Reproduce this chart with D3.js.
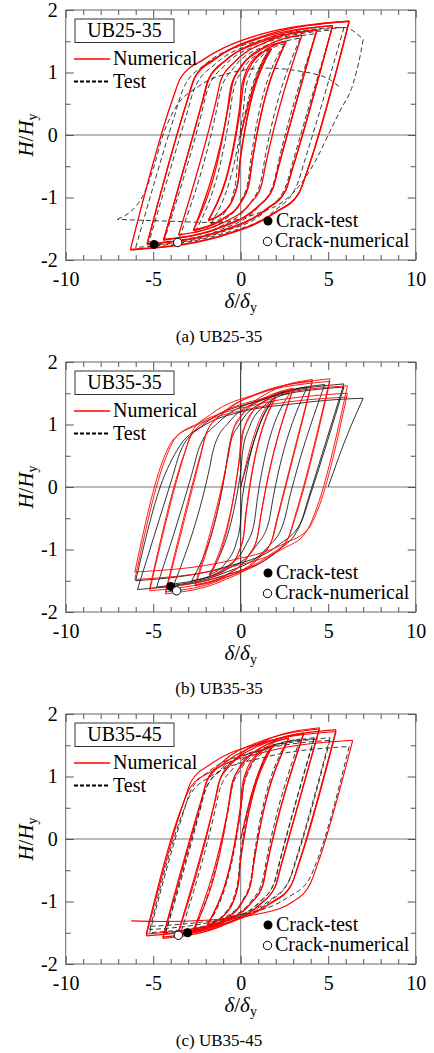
<!DOCTYPE html>
<html>
<head>
<meta charset="utf-8">
<script src="https://cdn.jsdelivr.net/npm/d3@7"></script>
<style>
  body { margin: 0; background: #fff; }
  svg text { font-family: "Liberation Serif", "Times New Roman", serif; fill: #000; }
</style>
</head>
<body>
<div id="chart"></div>
<script>
// specimen names and captions
const specimens = ["UB25-35", "UB35-35", "UB35-45"];
const captions = ["(a) UB25-35", "(b) UB35-35", "(c) UB35-45"];

const xMajor = [-10, -5, 0, 5, 10];
const xMinor = [-9, -8, -7, -6, -4, -3, -2, -1, 1, 2, 3, 4, 6, 7, 8, 9];
const yMajor = [-2, -1, 0, 1, 2];
const yMinor = [-1.5, -0.5, 0.5, 1.5];

// crack points [delta/delta_y, H/H_y]
const crackTest = [[-4.95, -1.75], [-4.0, -1.59], [-3.03, -1.5]];
const crackNum = [[-3.6, -1.72], [-3.66, -1.66], [-3.56, -1.54]];

// load histories (in loading order)
const ub2535Num = [
  [0,0],[0.55,0.6],[0.9,0.9],[1.3,1.18],[1.75,1.38],
  [-0.03,-0.40],[-0.12,-0.69],[-0.36,-0.96],[-0.94,-1.22],[-1.85,-1.36],
  [-0.07,0.42],[0.02,0.71],[0.26,0.98],[0.84,1.24],[1.75,1.38],
  [-0.04,-0.41],[-0.13,-0.70],[-0.37,-0.97],[-0.95,-1.23],[-1.85,-1.37],
  [0.02,0.50],[0.15,0.80],[0.48,1.06],[1.31,1.33],[2.6,1.5],
  [0.64,-0.46],[0.47,-0.78],[0.04,-1.06],[-1.03,-1.34],[-2.7,-1.52],
  [-0.74,0.44],[-0.57,0.76],[-0.14,1.03],[0.93,1.32],[2.6,1.5],
  [0.63,-0.47],[0.46,-0.79],[0.03,-1.07],[-1.04,-1.35],[-2.7,-1.53],
  [-0.67,0.50],[-0.46,0.83],[0.08,1.11],[1.42,1.42],[3.5,1.6],
  [1.42,-0.48],[1.17,-0.82],[0.53,-1.10],[-1.07,-1.41],[-3.55,-1.6],
  [-1.42,0.53],[-1.13,0.88],[-0.38,1.16],[1.47,1.49],[4.35,1.68],
  [2.17,-0.50],[1.84,-0.85],[0.99,-1.14],[-1.12,-1.47],[-4.4,-1.67],
  [-2.22,0.51],[-1.89,0.86],[-1.04,1.15],[1.07,1.48],[4.35,1.68],
  [2.16,-0.51],[1.83,-0.86],[0.98,-1.15],[-1.13,-1.48],[-4.4,-1.68],
  [-2.17,0.55],[-1.8,0.91],[-0.83,1.20],[1.54,1.55],[5.25,1.75],
  [2.98,-0.52],[2.56,-0.89],[1.48,-1.18],[-1.19,-1.54],[-5.35,-1.74],
  [-3.08,0.53],[-2.66,0.90],[-1.58,1.19],[1.09,1.55],[5.25,1.75],
  [2.97,-0.53],[2.55,-0.90],[1.47,-1.19],[-1.2,-1.55],[-5.35,-1.75],
  [-3.03,0.57],[-2.57,0.95],[-1.37,1.24],[1.59,1.61],[6.2,1.82],
  [3.83,-0.55],[3.32,-0.93],[2.01,-1.23],[-1.24,-1.62],[-6.3,-1.83],
  [-3.93,0.54],[-3.42,0.92],[-2.11,1.21],[1.14,1.61],[6.2,1.82],
  [3.82,-0.56],[3.31,-0.94],[2.0,-1.24],[-1.25,-1.63],[-6.3,-1.84]
];

const ub2535Test = [
  [0,0],[0.5,0.55],[0.85,0.9],[1.2,1.15],[1.6,1.36],
  [-0.16,-0.31],[-0.24,-0.64],[-0.44,-0.95],[-0.93,-1.25],[-1.7,-1.42],
  [0.12,0.31],[0.24,0.66],[0.55,0.98],[1.31,1.29],[2.5,1.46],
  [0.6,-0.35],[0.44,-0.71],[0.02,-1.05],[-1.0,-1.37],[-2.6,-1.55],
  [-0.64,0.31],[-0.44,0.68],[0.09,1.03],[1.38,1.36],[3.4,1.55],
  [1.39,-0.36],[1.15,-0.74],[0.51,-1.10],[-1.06,-1.45],[-3.5,-1.64],
  [-1.44,0.32],[-1.15,0.71],[-0.41,1.07],[1.43,1.43],[4.3,1.62],
  [2.2,-0.38],[1.87,-0.78],[1.01,-1.15],[-1.1,-1.51],[-4.4,-1.71],
  [-2.26,0.32],[-1.89,0.73],[-0.92,1.11],[1.47,1.48],[5.2,1.68],
  [3.02,-0.39],[2.6,-0.80],[1.52,-1.19],[-1.14,-1.56],[-5.3,-1.77],
  [-3.1,0.32],[-2.65,0.74],[-1.48,1.13],[1.4,1.51],[5.9,1.72],
  [3.68,-0.39],[3.2,-0.81],[1.94,-1.21],[-1.16,-1.59],[-6.0,-1.8],
  [-3.78,0.31],[-3.3,0.73],[-2.04,1.13],[1.06,1.51],[5.9,1.72],[7.0,1.53],
  [6.85,1.3],[6.4,0.8],[5.7,0.4],[5.0,0],[4.3,-0.4],[3.6,-0.72],[2.5,-1.05],[1.0,-1.25],[-1.7,-1.4],[-4.0,-1.38],[-7.05,-1.35],
  [-5.6,-0.98],[-4.9,-0.45],[-4.5,-0.05],[-3.8,0.4],[-2.4,0.78],[-0.5,1.0],[1.5,1.07],[3.4,1.02],[5.0,0.9],[5.6,0.78]
];

const ub3535Num = [
  [0,0],[0.6,0.68],[1.0,1.02],[1.5,1.3],[2.0,1.45],
  [0.28,-0.44],[0.18,-0.74],[-0.09,-1.03],[-0.76,-1.30],[-1.8,-1.45],
  [-0.1,0.42],[0.0,0.72],[0.28,1.01],[0.95,1.28],[2.0,1.43],
  [0.31,-0.43],[0.2,-0.73],[-0.07,-1.01],[-0.75,-1.28],[-1.8,-1.43],
  [-0.02,0.53],[0.13,0.85],[0.52,1.12],[1.49,1.41],[3.0,1.58],
  [1.14,-0.47],[0.95,-0.80],[0.47,-1.09],[-0.73,-1.40],[-2.6,-1.58],
  [-0.75,0.46],[-0.56,0.79],[-0.08,1.08],[1.13,1.39],[3.0,1.56],
  [1.15,-0.47],[0.96,-0.80],[0.48,-1.08],[-0.73,-1.39],[-2.6,-1.56],
  [-0.66,0.57],[-0.42,0.92],[0.20,1.20],[1.72,1.53],[4.1,1.72],
  [2.07,-0.51],[1.75,-0.87],[0.92,-1.17],[-1.12,-1.51],[-4.3,-1.71],
  [-2.29,0.50],[-1.97,0.86],[-1.14,1.15],[0.91,1.49],[4.1,1.69],
  [2.11,-0.50],[1.79,-0.85],[0.96,-1.14],[-1.1,-1.48],[-4.3,-1.68],
  [-2.28,0.54],[-1.91,0.90],[-0.95,1.19],[1.41,1.53],[5.1,1.73],
  [3.1,-0.47],[2.69,-0.83],[1.61,-1.12],[-1.05,-1.46],[-5.2,-1.66],
  [-3.22,0.52],[-2.8,0.87],[-1.72,1.16],[0.94,1.49],[5.1,1.69],
  [3.15,-0.46],[2.73,-0.81],[1.65,-1.09],[-1.03,-1.43],[-5.2,-1.62],
  [-3.28,0.49],[-2.81,0.83],[-1.59,1.11],[1.41,1.43],[6.1,1.62],
  [4.26,-0.40],[3.74,-0.72],[2.4,-0.99],[-0.9,-1.30],[-6.05,-1.48],
  [-4.29,0.46],[-3.77,0.77],[-2.42,1.02],[0.91,1.32],[6.1,1.50],
  [4.41,-0.36],[3.89,-0.66],[2.53,-0.90],[-0.82,-1.19],[-6.05,-1.36],
  [-4.4,0.46],[-3.88,0.75],[-2.51,0.99],[0.85,1.27],[6.1,1.44]
];

const ub3535Test = [
  [0,0],[0.5,0.5],[0.9,0.85],[1.3,1.15],[1.8,1.38],
  [0.1,-0.15],[0.0,-0.53],[-0.24,-0.88],[-0.85,-1.21],[-1.8,-1.4],
  [-0.02,0.2],[0.12,0.59],[0.49,0.95],[1.39,1.31],[2.8,1.5],
  [0.97,-0.15],[0.78,-0.56],[0.29,-0.93],[-0.92,-1.3],[-2.8,-1.5],
  [-0.91,0.2],[-0.67,0.62],[-0.06,1.01],[1.45,1.39],[3.8,1.6],
  [1.88,-0.13],[1.6,-0.56],[0.86,-0.95],[-0.96,-1.34],[-3.8,-1.55],
  [-1.86,0.2],[-1.53,0.63],[-0.66,1.04],[1.47,1.42],[4.8,1.64],
  [2.82,-0.14],[2.44,-0.58],[1.45,-0.99],[-0.99,-1.38],[-4.8,-1.6],
  [-2.81,0.19],[-2.37,0.63],[-1.24,1.04],[1.55,1.43],[5.9,1.65],
  [3.89,-0.16],[3.4,-0.6],[2.13,-1.02],[-1.0,-1.42],[-5.9,-1.64],
  [-3.92,0.14],[-3.43,0.58],[-2.15,0.99],[1.0,1.38],[5.9,1.6],
  [4.0,-0.11],[3.5,-0.53],[2.2,-0.92],[-1.0,-1.29],[-6.0,-1.5],
  [-4.6,0.0],[-3.5,0.65],[-2.0,1.0],[0,1.2],[3,1.33],[5.5,1.4],[7.0,1.42],
  [6.0,0.77],[5.0,0]
];

const ub3545Num = [
  [0,0],[0.6,0.7],[1.0,1.05],[1.4,1.32],[1.85,1.51],
  [-0.03,-0.37],[-0.12,-0.67],[-0.37,-0.96],[-0.97,-1.23],[-1.9,-1.38],
  [-0.03,0.49],[0.06,0.79],[0.31,1.08],[0.91,1.35],[1.85,1.5],
  [-0.02,-0.37],[-0.11,-0.67],[-0.36,-0.95],[-0.96,-1.22],[-1.9,-1.37],
  [0.04,0.57],[0.18,0.89],[0.53,1.16],[1.4,1.45],[2.75,1.62],
  [0.74,-0.39],[0.57,-0.71],[0.12,-1.0],[-0.98,-1.30],[-2.7,-1.47],
  [-0.7,0.53],[-0.53,0.85],[-0.08,1.14],[1.03,1.44],[2.75,1.61],
  [0.75,-0.39],[0.58,-0.71],[0.13,-0.99],[-0.97,-1.29],[-2.7,-1.46],
  [-0.65,0.59],[-0.44,0.92],[0.12,1.20],[1.48,1.51],[3.6,1.7],
  [1.5,-0.4],[1.25,-0.74],[0.58,-1.03],[-1.05,-1.34],[-3.6,-1.53],
  [-1.51,0.56],[-1.25,0.9],[-0.59,1.18],[1.05,1.49],[3.6,1.68],
  [1.52,-0.4],[1.27,-0.74],[0.6,-1.02],[-1.04,-1.33],[-3.6,-1.52],
  [-1.45,0.63],[-1.15,0.98],[-0.38,1.26],[1.53,1.59],[4.5,1.78],
  [2.31,-0.41],[1.97,-0.76],[1.09,-1.05],[-1.07,-1.39],[-4.45,-1.59],
  [-2.27,0.59],[-1.93,0.94],[-1.05,1.23],[1.12,1.56],[4.5,1.76],
  [2.34,-0.4],[2.0,-0.75],[1.12,-1.04],[-1.06,-1.37],[-4.45,-1.57],
  [-2.29,0.59],[-1.9,0.94],[-0.9,1.22],[1.58,1.56],[5.45,1.75],
  [3.3,-0.4],[2.87,-0.75],[1.73,-1.03],[-1.05,-1.36],[-5.4,-1.55],
  [-3.27,0.58],[-2.83,0.92],[-1.7,1.20],[1.09,1.53],[5.45,1.72],
  [3.34,-0.39],[2.9,-0.73],[1.77,-1.01],[-1.03,-1.33],[-5.4,-1.52],
  [-3.38,0.5],[-2.89,0.82],[-1.62,1.09],[1.51,1.40],[6.4,1.58],
  [4.52,-0.30],[4.0,-0.7],[3.0,-1.0],[1.0,-1.2],[-2.0,-1.3],[-4.5,-1.32],[-6.25,-1.31]
];

const ub3545Test = [
  [0,0],[0.55,0.62],[0.95,0.98],[1.3,1.25],[1.7,1.45],
  [-0.04,-0.29],[-0.13,-0.61],[-0.36,-0.9],[-0.92,-1.19],[-1.8,-1.35],
  [0.0,0.45],[0.13,0.78],[0.47,1.09],[1.3,1.39],[2.6,1.55],
  [0.75,-0.3],[0.58,-0.64],[0.15,-0.96],[-0.93,-1.26],[-2.6,-1.43],
  [-0.72,0.45],[-0.51,0.8],[0.02,1.12],[1.34,1.43],[3.4,1.6],
  [1.49,-0.31],[1.25,-0.66],[0.61,-0.99],[-0.96,-1.30],[-3.4,-1.48],
  [-1.48,0.44],[-1.2,0.79],[-0.46,1.12],[1.36,1.44],[4.2,1.62],
  [2.25,-0.33],[1.92,-0.69],[1.07,-1.02],[-1.03,-1.34],[-4.3,-1.52],
  [-2.37,0.41],[-2.04,0.77],[-1.19,1.1],[0.92,1.42],[4.2,1.6],
  [2.28,-0.32],[1.95,-0.68],[1.1,-1.0],[-1.01,-1.32],[-4.3,-1.5],
  [-2.37,0.43],[-2.0,0.79],[-1.03,1.12],[1.37,1.44],[5.1,1.62],
  [3.17,-0.31],[2.75,-0.67],[1.66,-1.0],[-1.02,-1.32],[-5.2,-1.5],
  [-3.29,0.41],[-2.87,0.76],[-1.78,1.09],[0.91,1.40],[5.1,1.58],
  [3.22,-0.3],[2.8,-0.65],[1.71,-0.97],[-0.99,-1.28],[-5.2,-1.45],
  [-3.38,0.37],[-2.9,0.7],[-1.66,1.01],[1.41,1.31],[6.2,1.48],
  [4.41,-0.31],[3.92,-0.64],[2.66,-0.94],[-0.44,-1.24],[-5.3,-1.4]
];

const numericalSeries = [ub2535Num, ub3535Num, ub3545Num];
const testSeries = [ub2535Test, ub3535Test, ub3545Test];

// styles per panel
const numWidth = [1.3, 0.9, 1.1];
const testDash = ["5,3", null, "5,3"];
const testColor = ["#222", "#111", "#222"];
const testWidth = [0.9, 0.85, 0.9];
const vZeroColor = ["#777", "#222", "#777"];

const width = 434, height = 1053;
const left = 65.7, right = 415.7, plotH = 250;
const panelTops = [10, 362, 714];
const red = "#ff0000";

// split a load history into branches of one loading direction
function branches(pts) {
  const out = [];
  let cur = [pts[0]], dir = 0;
  for (let i = 1; i < pts.length; i++) {
    const d = Math.sign(pts[i][0] - pts[i - 1][0]);
    if (dir === 0) dir = d;
    if (d !== dir) { out.push(cur); cur = [pts[i - 1]]; dir = d; }
    cur.push(pts[i]);
  }
  out.push(cur);
  return out;
}

const svg = d3.select("#chart").append("svg")
  .attr("width", width).attr("height", height);

specimens.forEach((name, i) => {
  const top = panelTops[i], bottom = top + plotH;
  const x = d3.scaleLinear().domain([-10, 10]).range([left, right]);
  const y = d3.scaleLinear().domain([-2, 2]).range([bottom, top]);
  const g = svg.append("g");

  g.append("clipPath").attr("id", "clip" + i)
    .append("rect").attr("x", left).attr("y", top).attr("width", right - left).attr("height", plotH);

  // zero lines
  g.append("line").attr("x1", x(-10)).attr("x2", x(10)).attr("y1", y(0)).attr("y2", y(0))
    .attr("stroke", "#777").attr("stroke-width", 1);
  g.append("line").attr("x1", x(0)).attr("x2", x(0)).attr("y1", top).attr("y2", bottom)
    .attr("stroke", vZeroColor[i]).attr("stroke-width", 1);

  const line = d3.line().x(d => x(d[0])).y(d => y(d[1])).curve(d3.curveMonotoneX);
  const cg = g.append("g").attr("clip-path", `url(#clip${i})`);

  cg.selectAll("path.test").data(branches(testSeries[i])).join("path")
    .attr("class", "test").attr("d", line).attr("fill", "none")
    .attr("stroke", testColor[i]).attr("stroke-width", testWidth[i])
    .attr("stroke-dasharray", testDash[i]);

  cg.selectAll("path.num").data(branches(numericalSeries[i])).join("path")
    .attr("class", "num").attr("d", line).attr("fill", "none")
    .attr("stroke", red).attr("stroke-width", numWidth[i]);

  // crack markers
  g.append("circle").attr("cx", x(crackTest[i][0])).attr("cy", y(crackTest[i][1]))
    .attr("r", 4.5).attr("fill", "#000");
  g.append("circle").attr("cx", x(crackNum[i][0])).attr("cy", y(crackNum[i][1]))
    .attr("r", 4.2).attr("fill", "#fff").attr("stroke", "#000").attr("stroke-width", 1);

  // frame
  g.append("rect").attr("x", left).attr("y", top).attr("width", right - left).attr("height", plotH)
    .attr("fill", "none").attr("stroke", "#666").attr("stroke-width", 1);

  // axes, ticks pointing inwards
  const fmt = d => String(d);
  const addAxis = (axis, tx, ty) => {
    const a = g.append("g").attr("transform", `translate(${tx},${ty})`).call(axis);
    a.select(".domain").remove();
    a.selectAll("line").attr("stroke", "#555");
    a.selectAll("text").attr("font-size", 20)
      .attr("font-family", '"Liberation Serif", "Times New Roman", serif');
    return a;
  };
  addAxis(d3.axisBottom(x).tickValues(xMajor).tickSize(-8).tickPadding(12).tickFormat(fmt), 0, bottom);
  addAxis(d3.axisBottom(x).tickValues(xMinor).tickSize(-5).tickFormat(""), 0, bottom);
  addAxis(d3.axisTop(x).tickValues(xMajor).tickSize(-8).tickFormat(""), 0, top);
  addAxis(d3.axisTop(x).tickValues(xMinor).tickSize(-5).tickFormat(""), 0, top);
  addAxis(d3.axisLeft(y).tickValues(yMajor).tickSize(-8).tickPadding(8).tickFormat(fmt), left, 0);
  addAxis(d3.axisLeft(y).tickValues(yMinor).tickSize(-5).tickFormat(""), left, 0);
  addAxis(d3.axisRight(y).tickValues(yMajor).tickSize(-8).tickFormat(""), right, 0);
  addAxis(d3.axisRight(y).tickValues(yMinor).tickSize(-5).tickFormat(""), right, 0);

  // axis titles
  const yt = g.append("text").attr("transform", `translate(33,${top + 125}) rotate(-90)`)
    .attr("text-anchor", "middle").attr("font-size", 21);
  yt.append("tspan").attr("font-style", "italic").text("H");
  yt.append("tspan").text("/");
  yt.append("tspan").attr("font-style", "italic").text("H");
  yt.append("tspan").attr("font-size", 14).attr("dy", 4).text("y");

  const xt = g.append("text").attr("x", x(0)).attr("y", bottom + 48)
    .attr("text-anchor", "middle").attr("font-size", 21);
  xt.append("tspan").attr("font-style", "italic").text("δ");
  xt.append("tspan").text("/");
  xt.append("tspan").attr("font-style", "italic").text("δ");
  xt.append("tspan").attr("font-size", 14).attr("dy", 4).text("y");

  g.append("text").attr("x", 219).attr("y", bottom + 82).attr("text-anchor", "middle")
    .attr("font-size", 17).text(captions[i]);

  // specimen label box
  g.append("rect").attr("x", 75).attr("y", top + 9).attr("width", 99).attr("height", 23.5)
    .attr("fill", "#fff").attr("stroke", "#333").attr("stroke-width", 1);
  g.append("text").attr("x", 124.5).attr("y", top + 27).attr("text-anchor", "middle")
    .attr("font-size", 20).text(name);

  // series legend
  g.append("line").attr("x1", 74).attr("x2", 110).attr("y1", top + 49).attr("y2", top + 49)
    .attr("stroke", red).attr("stroke-width", 1.4);
  g.append("text").attr("x", 113).attr("y", top + 55).attr("font-size", 20).text("Numerical");
  g.append("line").attr("x1", 74).attr("x2", 110).attr("y1", top + 71.5).attr("y2", top + 71.5)
    .attr("stroke", "#000").attr("stroke-width", 1.8).attr("stroke-dasharray", "4,2");
  g.append("text").attr("x", 113).attr("y", top + 78).attr("font-size", 20).text("Test");

  // crack legend
  g.append("circle").attr("cx", 268).attr("cy", top + 211).attr("r", 4.5).attr("fill", "#000");
  g.append("text").attr("x", 276).attr("y", top + 216.5).attr("font-size", 20).text("Crack-test");
  g.append("circle").attr("cx", 267.5).attr("cy", top + 231.5).attr("r", 4.2)
    .attr("fill", "#fff").attr("stroke", "#000").attr("stroke-width", 1);
  g.append("text").attr("x", 275).attr("y", top + 237).attr("font-size", 20).text("Crack-numerical");
});
</script>
</body>
</html>
